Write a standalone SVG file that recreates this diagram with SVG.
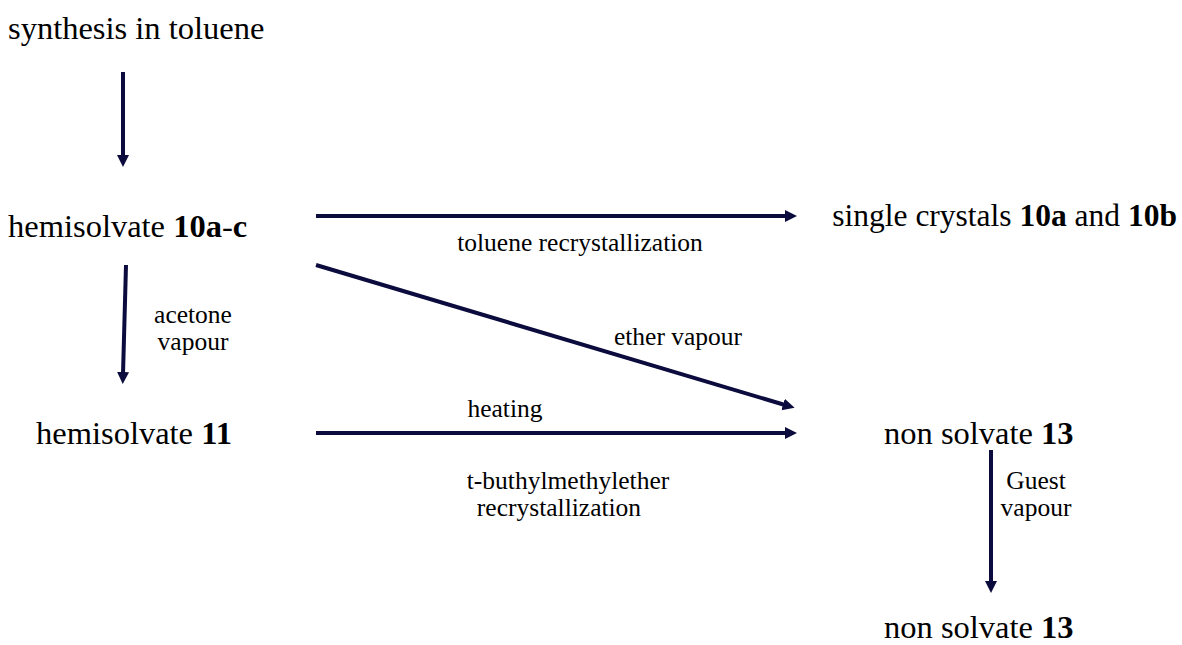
<svg xmlns="http://www.w3.org/2000/svg" width="1182" height="645" viewBox="0 0 1182 645">
  <style>
    text { font-family: 'Times New Roman', 'Liberation Serif', 'DejaVu Serif', serif; fill: #000; }
    .node-text { font-size: 32.5px; }
    .cap { font-size: 25.5px; }
    .b { font-weight: bold; }
    .arr { stroke: #0b0b3d; stroke-width: 4; fill: none; marker-end: url(#head); }
  </style>
  <defs>
    <marker id="head" markerUnits="userSpaceOnUse" markerWidth="14" markerHeight="14" viewBox="0 0 14 14" refX="2" refY="7" orient="auto">
      <path d="M0,1 L12,7 L0,13 Z" fill="#0b0b3d"/>
    </marker>
  </defs>

  <g id="connectors">
    <line class="arr" x1="123" y1="72" x2="123" y2="157"/>
    <line class="arr" x1="316" y1="216" x2="787" y2="216"/>
    <line class="arr" x1="316" y1="265" x2="785" y2="405"/>
    <line class="arr" x1="126" y1="265" x2="123" y2="374"/>
    <line class="arr" x1="316" y1="433" x2="787" y2="433"/>
    <line class="arr" x1="991" y1="450" x2="991" y2="583"/>
  </g>

  <g id="n-synthesis"><text class="node-text" x="8" y="39">synthesis in toluene</text></g>
  <g id="n-hemi10"><text class="node-text" x="8" y="237">hemisolvate <tspan class="b">10a</tspan>-<tspan class="b">c</tspan></text></g>
  <g id="n-crystals"><text class="node-text" x="1177" y="226" text-anchor="end" style="font-size:31.5px">single crystals <tspan class="b">10a</tspan> and <tspan class="b">10b</tspan></text></g>
  <g id="n-hemi11"><text class="node-text" x="36" y="444">hemisolvate <tspan class="b">11</tspan></text></g>
  <g id="n-non13a"><text class="node-text" x="884" y="444">non solvate <tspan class="b">13</tspan></text></g>
  <g id="n-non13b"><text class="node-text" x="884" y="638">non solvate <tspan class="b">13</tspan></text></g>

  <g id="labels">
    <text class="cap" x="580" y="251" text-anchor="middle">toluene recrystallization</text>
    <text class="cap" x="193" y="323" text-anchor="middle">acetone</text>
    <text class="cap" x="193" y="350" text-anchor="middle">vapour</text>
    <text class="cap" x="678" y="345" text-anchor="middle">ether vapour</text>
    <text class="cap" x="505" y="417" text-anchor="middle">heating</text>
    <text class="cap" x="568" y="489" text-anchor="middle">t-buthylmethylether</text>
    <text class="cap" x="559" y="516" text-anchor="middle">recrystallization</text>
    <text class="cap" x="1036" y="489" text-anchor="middle">Guest</text>
    <text class="cap" x="1036" y="516" text-anchor="middle">vapour</text>
  </g>
</svg>
